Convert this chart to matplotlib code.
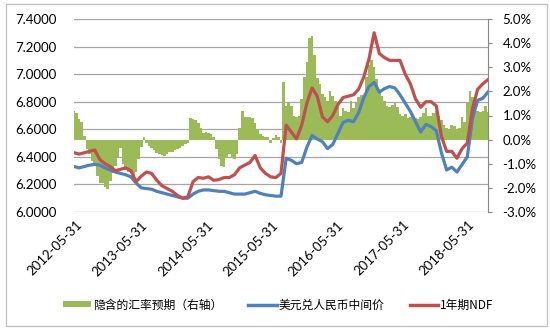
import numpy as np
import pandas as pd
import matplotlib
matplotlib.use('Agg')
import matplotlib.pyplot as plt
from matplotlib.patches import Patch, Rectangle
from matplotlib.lines import Line2D
from matplotlib.ticker import FuncFormatter, MultipleLocator

plt.rcParams['font.family'] = ['Lato', 'Noto Sans CJK SC', 'DejaVu Sans']

# ---------------- data ----------------
start_date, end_date = '2012-04-26', '2018-08-28'

usd_cny_mid = [
    6.33, 6.32, 6.33, 6.34, 6.345, 6.34, 6.32, 6.305, 6.29, 6.28,
    6.27, 6.255, 6.21, 6.175, 6.17, 6.165, 6.15, 6.14, 6.13, 6.12,
    6.11, 6.10, 6.10, 6.13, 6.15, 6.16, 6.16, 6.155, 6.15, 6.15,
    6.14, 6.13, 6.13, 6.13, 6.14, 6.15, 6.135, 6.125, 6.12, 6.115,
    6.115, 6.39, 6.375, 6.35, 6.36, 6.47, 6.555, 6.53, 6.51, 6.46,
    6.49, 6.57, 6.65, 6.665, 6.655, 6.72, 6.83, 6.91, 6.94, 6.87,
    6.895, 6.91, 6.90, 6.85, 6.79, 6.73, 6.655, 6.58, 6.635, 6.62,
    6.59, 6.43, 6.305, 6.325, 6.29, 6.345, 6.40, 6.68, 6.81, 6.825, 6.87,
]

ndf_1y = [
    6.43, 6.42, 6.43, 6.44, 6.45, 6.38, 6.35, 6.33, 6.30, 6.31,
    6.32, 6.30, 6.22, 6.26, 6.29, 6.28, 6.23, 6.19, 6.17, 6.15,
    6.12, 6.10, 6.11, 6.22, 6.25, 6.245, 6.255, 6.23, 6.235, 6.25,
    6.25, 6.27, 6.32, 6.34, 6.36, 6.41, 6.32, 6.28, 6.255, 6.25,
    6.28, 6.63, 6.58, 6.53, 6.63, 6.79, 6.90, 6.84, 6.69, 6.655,
    6.70, 6.78, 6.83, 6.84, 6.85, 6.89, 6.98, 7.11, 7.30, 7.15,
    7.12, 7.10, 7.10, 7.10, 7.00, 6.93, 6.82, 6.76, 6.80, 6.80,
    6.77, 6.55, 6.44, 6.44, 6.39, 6.46, 6.50, 6.75, 6.89, 6.93, 6.96,
]

implied_expectation = [  # percent, right axis
    1.2, 1.1, 0.85, 0.75, 0.15, -0.4, -0.6, -0.9, -1.1, -1.5,
    -1.8, -1.8, -1.95, -2.05, -1.7, -1.4, -1.1, -0.7, -0.35, -1.0,
    -1.25, -1.35, -1.4, -1.5, -1.35, -0.8, -0.3, 0.1, -0.15, -0.25,
    -0.35, -0.45, -0.55, -0.6, -0.65, -0.68, -0.6, -0.5, -0.5, -0.45,
    -0.4, -0.35, -0.25, -0.2, -0.15, 0.9, 0.85, 0.8, 0.7, 0.5,
    0.28, 0.32, 0.28, 0.25, 0.12, -0.4, -0.8, -1.1, -1.15, -0.75,
    -0.6, -0.75, -0.8, -0.6, 0.5, 1.17, 0.95, 0.95, 0.95, 0.9,
    0.7, 0.4, 0.25, 0.15, 0.12, 0.1, -0.15, 0.05, 0.2, 0.1,
    -0.14, 2.4, 1.4, 1.5, 1.4, 1.0, 0.95, 1.0, 1.7, 2.6,
    3.2, 4.2, 4.3, 3.5, 2.55, 2.3, 1.9, 1.75, 1.6, 2.0,
    1.8, 1.6, 1.35, 1.0, 1.3, 1.2, 1.15, 1.6, 1.3, 1.5,
    1.75, 1.85, 1.8, 2.6, 3.1, 3.3, 3.0, 2.5, 2.0, 1.8,
    1.6, 1.4, 1.35, 1.45, 1.5, 1.35, 1.05, 1.0, 1.05, 0.9,
    0.95, 1.0, 0.9, 0.85, 0.95, 1.1, 1.3, 1.0, 1.0, 1.1,
    1.2, 1.0, 0.8, 0.6, 0.47, 0.45, 0.6, 0.55, 0.45, 0.5,
    0.95, 0.75, 1.5, 2.0, 1.75, 1.6, 1.2, 1.15, 1.2, 1.4, 1.15,
]

tick_labels = ['2012-05-31', '2013-05-31', '2014-05-31', '2015-05-31',
               '2016-05-31', '2017-05-31', '2018-05-31']

legend_labels = ['隐含的汇率预期（右轴）', '美元兑人民币中间价', '1年期NDF']

GREEN, BLUE, RED = '#9BBB59', '#4F81BD', '#C0504D'
GRID = '#A6A6A6'

line_dates = pd.date_range(start_date, end_date, periods=len(usd_cny_mid))
bar_dates = pd.date_range(start_date, end_date, periods=len(implied_expectation))
tick_dates = pd.to_datetime(tick_labels)
bar_width = (bar_dates[1] - bar_dates[0]) * 1.02

# ---------------- figure ----------------
fig = plt.figure(figsize=(5.5, 3.33), dpi=100)
fig.patches.append(Rectangle((6 / 550, 1 - 326 / 333), 540.5 / 550, 322.5 / 333,
                             transform=fig.transFigure, fill=False,
                             ec='#BFBFBF', lw=0.9))

pos = [74 / 550, 1 - 212 / 333, (488 - 74) / 550, (212 - 19) / 333]

ax = fig.add_axes(pos)              # background: grid, left axis, dates
axb = fig.add_axes(pos, sharex=ax)  # bars, right axis
axl = fig.add_axes(pos, sharex=ax, sharey=ax)  # lines on top

# background axis
ax.set_ylim(6.0, 7.4)
ax.yaxis.set_major_locator(MultipleLocator(0.2))
ax.yaxis.set_major_formatter(FuncFormatter(lambda v, p: f'{v:.4f}'))
ax.grid(axis='y', color=GRID, lw=0.9)
ax.set_axisbelow(True)
for s in ax.spines.values():
    s.set_visible(False)
ax.tick_params(axis='y', length=0, pad=12.5, labelsize=9.5)
ax.set_xlim(pd.Timestamp(start_date), pd.Timestamp(end_date))
ax.set_xticks(tick_dates)
ax.set_xticklabels(tick_labels, rotation=45, ha='right', va='center',
                   rotation_mode='anchor', fontsize=9.5)
ax.tick_params(axis='x', length=0, pad=8)

# bars
axb.patch.set_visible(False)
axb.bar(bar_dates, implied_expectation, width=bar_width, color=GREEN,
        edgecolor='none', linewidth=0, antialiased=False)
axb.set_ylim(-3, 5)
axb.yaxis.set_major_locator(MultipleLocator(1))
axb.yaxis.set_major_formatter(FuncFormatter(lambda v, p: f'{v:.1f}%'))
axb.yaxis.tick_right()
axb.tick_params(axis='y', length=3, width=0.8, color='#868686', pad=7.5,
                labelsize=9.5)
axb.tick_params(axis='x', bottom=False, labelbottom=False)
for k, s in axb.spines.items():
    s.set_visible(k == 'right')
axb.spines['right'].set_color('#868686')
axb.spines['right'].set_linewidth(0.8)

# lines
axl.patch.set_visible(False)
axl.plot(line_dates, usd_cny_mid, color=BLUE, lw=2.3, solid_joinstyle='round')
axl.plot(line_dates, ndf_1y, color=RED, lw=2.3, solid_joinstyle='round')
axl.axis('off')
ax.set_xlim(pd.Timestamp(start_date), pd.Timestamp(end_date))

handles = [Patch(facecolor=GREEN, edgecolor='none'),
           Line2D([], [], color=BLUE, lw=2.5),
           Line2D([], [], color=RED, lw=2.5)]
leg = fig.legend(handles, legend_labels, loc='center', ncol=3,
                 bbox_to_anchor=(0.506, 1 - 305 / 333), frameon=False,
                 prop={'family': ['Noto Sans CJK SC'], 'size': 8.5},
                 handlelength=2.4, handleheight=0.45, handletextpad=0.15,
                 columnspacing=2.2)

fig.savefig('out.png', dpi=100)
